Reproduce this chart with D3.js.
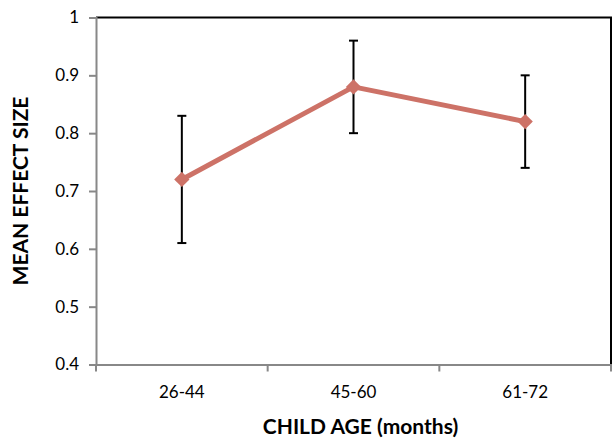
<!DOCTYPE html>
<html>
  <head>
    <meta charset="utf-8">
    <title>Mean effect size by child age</title>
    <script type="text/javascript" src="https://cdn.jsdelivr.net/npm/d3@7"></script>
    <style type='text/css'>
      body { margin: 0; background: #fff; }
      .axis text {
        font-family: Lato, "Open Sans", sans-serif;
        font-size: 17px;
        fill: #000;
      }
      .title {
        font-family: Lato, "Open Sans", sans-serif;
        font-weight: bold;
        font-size: 21px;
        fill: #000;
      }
    </style>
  </head>
  <body>
    <script type="text/javascript">
      var ageGroups = ['26-44', '45-60', '61-72'];
      var meanEffect = [0.72, 0.88, 0.82];
      var errLow = [0.61, 0.80, 0.74];
      var errHigh = [0.83, 0.96, 0.90];
      var yTicks = [0.4, 0.5, 0.6, 0.7, 0.8, 0.9, 1];

      var w = 612;
      var h = 440;
      var padLeft = 96, padRight = 611, padTop = 17.5, padBottom = 364.5;
      var lineColor = '#CD7267';

      var svg = d3.select('body')
                  .append('svg')
                  .attr('width', w)
                  .attr('height', h);

      var xScale = d3.scaleBand()
                      .domain(ageGroups)
                      .range([padLeft, padRight]);

      var yScale = d3.scaleLinear()
                      .domain([0.4, 1])
                      .range([padBottom, padTop]);

      // plot frame: top and right in black
      svg.append('path')
          .attr('d', 'M' + padLeft + ',' + padTop + 'H' + padRight + 'V' + padBottom)
          .attr('fill', 'none')
          .attr('stroke', '#000')
          .attr('stroke-width', 2);

      var yAxis = d3.axisLeft(yScale)
                    .tickValues(yTicks)
                    .tickSize(7)
                    .tickPadding(10)
                    .tickFormat(function(d) { return d === 1 ? '1' : d3.format('.1f')(d); });

      var gy = svg.append('g')
          .attr('class', 'y axis')
          .attr('transform', 'translate(' + padLeft + ',0)')
          .call(yAxis);
      gy.select('.domain').attr('stroke', '#888').attr('stroke-width', 2);
      gy.selectAll('.tick line').attr('stroke', '#888').attr('stroke-width', 2);

      // x axis with ticks on category boundaries
      var xAxis = d3.axisBottom(xScale)
                    .tickSize(0)
                    .tickPadding(21)
                    .tickSizeOuter(0);

      var gx = svg.append('g')
          .attr('class', 'x axis')
          .attr('transform', 'translate(0,' + padBottom + ')')
          .call(xAxis);
      gx.select('.domain').attr('stroke', '#888').attr('stroke-width', 2);

      var bounds = [padLeft].concat(ageGroups.map(function(d) { return xScale(d) + xScale.bandwidth(); }));
      gx.selectAll('line.bound')
        .data(bounds)
        .enter()
        .append('line')
        .attr('class', 'bound')
        .attr('x1', function(d) { return d; })
        .attr('x2', function(d) { return d; })
        .attr('y1', 0)
        .attr('y2', 7)
        .attr('stroke', '#888')
        .attr('stroke-width', 2);

      var cx = function(i) { return xScale(ageGroups[i]) + xScale.bandwidth() / 2; };

      // line
      var line = d3.line()
                   .x(function(d, i) { return cx(i); })
                   .y(function(d) { return yScale(d); });

      svg.append('path')
          .datum(meanEffect)
          .attr('d', line)
          .attr('fill', 'none')
          .attr('stroke', lineColor)
          .attr('stroke-width', 5)
          .attr('stroke-linejoin', 'round');

      // error bars
      var bars = svg.selectAll('g.err')
                    .data(meanEffect)
                    .enter()
                    .append('g')
                    .attr('class', 'err')
                    .attr('stroke', '#000')
                    .attr('stroke-width', 2);

      bars.append('line')
          .attr('x1', function(d, i) { return cx(i); })
          .attr('x2', function(d, i) { return cx(i); })
          .attr('y1', function(d, i) { return yScale(errLow[i]); })
          .attr('y2', function(d, i) { return yScale(errHigh[i]); });

      bars.append('line')
          .attr('x1', function(d, i) { return cx(i) - 4.5; })
          .attr('x2', function(d, i) { return cx(i) + 4.5; })
          .attr('y1', function(d, i) { return yScale(errHigh[i]); })
          .attr('y2', function(d, i) { return yScale(errHigh[i]); });

      bars.append('line')
          .attr('x1', function(d, i) { return cx(i) - 4.5; })
          .attr('x2', function(d, i) { return cx(i) + 4.5; })
          .attr('y1', function(d, i) { return yScale(errLow[i]); })
          .attr('y2', function(d, i) { return yScale(errLow[i]); });

      // diamond markers
      svg.selectAll('path.marker')
        .data(meanEffect)
        .enter()
        .append('path')
        .attr('class', 'marker')
        .attr('d', d3.symbol().type(d3.symbolDiamond2).size(150))
        .attr('transform', function(d, i) { return 'translate(' + cx(i) + ',' + yScale(d) + ')'; })
        .attr('fill', lineColor);

      // axis titles
      svg.append('text')
          .attr('class', 'title')
          .attr('x', (padLeft + padRight) / 2 + 7)
          .attr('y', 434)
          .style('text-anchor', 'middle')
          .text('CHILD AGE (months)');

      svg.append('text')
          .attr('class', 'title')
          .attr('transform', 'rotate(-90)')
          .attr('x', -191)
          .attr('y', 28)
          .style('text-anchor', 'middle')
          .text('MEAN EFFECT SIZE');
    </script>
  </body>
</html>
